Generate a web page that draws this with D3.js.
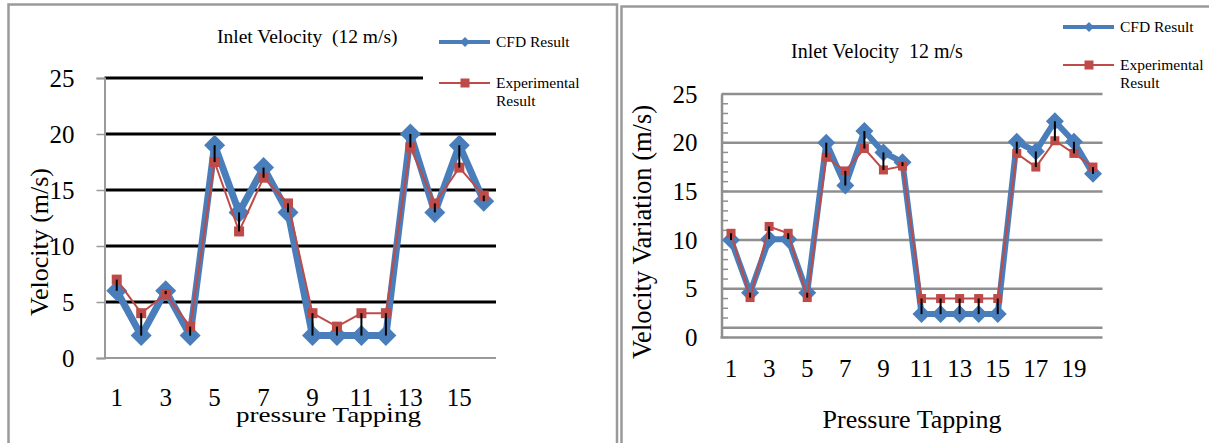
<!DOCTYPE html>
<meta charset="utf-8">
<style>
    body { margin: 0; background: #fff; }
    .container { width: 1209px; height: 443px; }
    text { font-family: "Liberation Serif", "Times New Roman", serif; fill: #000; }
</style>
<body>

<div class="container"></div>

<script src="https://cdn.jsdelivr.net/npm/d3@7"></script>

<script>

// left chart: 16 tappings
const leftTapping = [1, 2, 3, 4, 5, 6, 7, 8, 9, 10, 11, 12, 13, 14, 15, 16];
const leftCfd = [6, 2, 6, 2, 19, 13, 17, 13, 2, 2, 2, 2, 20, 13, 19, 14];
const leftExp = [7, 4, 5.7, 2.8, 17.5, 11.3, 16.1, 13.8, 4, 2.8, 4, 4, 18.8, 13.8, 17, 14.5];
const leftYTicks = [0, 5, 10, 15, 20, 25];
const leftXLabels = [1, 3, 5, 7, 9, 11, 13, 15];

// right chart: 20 tappings
const rightTapping = [1, 2, 3, 4, 5, 6, 7, 8, 9, 10, 11, 12, 13, 14, 15, 16, 17, 18, 19, 20];
const rightCfd = [10, 4.6, 10.1, 10.1, 4.6, 20, 15.6, 21.2, 19, 18, 2.4, 2.4, 2.4, 2.4, 2.4, 20.1, 19.1, 22.2, 20.1, 16.8];
const rightExp = [10.7, 4.1, 11.4, 10.7, 4.1, 18.5, 17.1, 19.4, 17.2, 17.6, 4, 4, 4, 4, 4, 18.9, 17.5, 20.2, 18.9, 17.5];
const rightYTicks = [0, 5, 10, 15, 20, 25];
const rightXLabels = [1, 3, 5, 7, 9, 11, 13, 15, 17, 19];

const blue = '#4a7ebb';
const red = '#be4b48';
const frameGrey = '#9a9a9a';

const width = 1209;
const height = 443;

const svg = d3.select('.container')
                .append('svg')
                .attr('width', width)
                .attr('height', height)
                .attr('viewBox', `0 0 ${width} ${height}`);

// panel frames
svg.append('rect')
    .attr('x', 8.5).attr('y', 4.5)
    .attr('width', 608.5).attr('height', 460)
    .attr('fill', 'none').attr('stroke', frameGrey).attr('stroke-width', 2.5);

svg.append('rect')
    .attr('x', 621.5).attr('y', 6.5)
    .attr('width', 620).attr('height', 460)
    .attr('fill', 'none').attr('stroke', frameGrey).attr('stroke-width', 2.5);

const diamond = (s) => `M0,${-s}L${s},0L0,${s}L${-s},0Z`;

const drawSeries = (g, x, y, cats, cfd, exp, o) => {

    const lineC = d3.line().x((d, i) => x(cats[i]) + x.bandwidth() / 2).y(d => y(d));

    g.append('path')
        .attr('d', lineC(cfd))
        .attr('fill', 'none')
        .attr('stroke', blue)
        .attr('stroke-width', o.blueWidth)
        .attr('stroke-linejoin', 'round');

    g.selectAll('path.cfd')
        .data(cfd)
        .enter()
        .append('path')
        .attr('class', 'cfd')
        .attr('d', diamond(o.diamond))
        .attr('transform', (d, i) => `translate(${x(cats[i]) + x.bandwidth() / 2},${y(d)})`)
        .attr('fill', blue);

    g.append('path')
        .attr('d', lineC(exp))
        .attr('fill', 'none')
        .attr('stroke', red)
        .attr('stroke-width', 2);

    g.selectAll('rect.exp')
        .data(exp)
        .enter()
        .append('rect')
        .attr('class', 'exp')
        .attr('x', (d, i) => x(cats[i]) + x.bandwidth() / 2 - o.square / 2)
        .attr('y', d => y(d) - o.square / 2)
        .attr('width', o.square)
        .attr('height', o.square)
        .attr('fill', red);

    // black bars between the two results
    g.selectAll('line.err')
        .data(cfd)
        .enter()
        .append('line')
        .attr('class', 'err')
        .attr('x1', (d, i) => x(cats[i]) + x.bandwidth() / 2)
        .attr('x2', (d, i) => x(cats[i]) + x.bandwidth() / 2)
        .attr('y1', d => y(d))
        .attr('y2', (d, i) => y(exp[i]))
        .attr('stroke', '#000')
        .attr('stroke-width', 2);
};

const drawLegend = (g, lx, ly1, ly2, tx) => {
    g.append('line')
        .attr('x1', lx).attr('x2', lx + 51).attr('y1', ly1).attr('y2', ly1)
        .attr('stroke', blue).attr('stroke-width', 4);
    g.append('path')
        .attr('d', diamond(5))
        .attr('transform', `translate(${lx + 26},${ly1})`)
        .attr('fill', blue);
    g.append('text')
        .attr('x', tx).attr('y', ly1 + 5)
        .style('font-size', '15.5px')
        .text('CFD Result');

    g.append('line')
        .attr('x1', lx).attr('x2', lx + 51).attr('y1', ly2).attr('y2', ly2)
        .attr('stroke', red).attr('stroke-width', 2);
    g.append('rect')
        .attr('x', lx + 21.5).attr('y', ly2 - 4.5)
        .attr('width', 9).attr('height', 9)
        .attr('fill', red);
    g.append('text')
        .attr('x', tx).attr('y', ly2 + 5)
        .style('font-size', '15.5px')
        .text('Experimental');
    g.append('text')
        .attr('x', tx).attr('y', ly2 + 23)
        .style('font-size', '15.5px')
        .text('Result');
};

// ---------- left chart ----------
{
    const g = svg.append('g');

    const x = d3.scaleBand().domain(leftTapping).range([104.5, 496]);
    const y = d3.scaleLinear().domain([0, 25]).range([358, 78]);

    g.selectAll('line.grid')
        .data(leftYTicks.filter(d => d > 0))
        .enter()
        .append('line')
        .attr('class', 'grid')
        .attr('x1', 104.5)
        .attr('x2', d => d === 25 ? 423 : 496)
        .attr('y1', d => y(d))
        .attr('y2', d => y(d))
        .attr('stroke', '#000')
        .attr('stroke-width', 3);

    const yAxis = g.append('g')
        .attr('transform', 'translate(104.5,0)')
        .call(d3.axisLeft(y).tickValues(leftYTicks).tickSize(8).tickPadding(22));
    yAxis.select('.domain').attr('stroke', frameGrey).attr('stroke-width', 2);
    yAxis.selectAll('.tick line').attr('stroke', frameGrey).attr('stroke-width', 1.5);
    yAxis.selectAll('text')
        .style('font-size', '25px')
        .attr('fill', '#000');

    g.append('line')
        .attr('x1', 104.5).attr('x2', 496)
        .attr('y1', y(0)).attr('y2', y(0))
        .attr('stroke', frameGrey).attr('stroke-width', 2);

    drawSeries(g, x, y, leftTapping, leftCfd, leftExp, { blueWidth: 7, diamond: 10.5, square: 10 });

    g.selectAll('text.xl')
        .data(leftXLabels)
        .enter()
        .append('text')
        .attr('class', 'xl')
        .attr('x', d => x(d) + x.bandwidth() / 2)
        .attr('y', 406)
        .attr('text-anchor', 'middle')
        .style('font-size', '25px')
        .text(d => d);

    g.append('text')
        .attr('x', x(13) + x.bandwidth() / 2 - 21)
        .attr('y', 406)
        .attr('text-anchor', 'middle')
        .style('font-size', '24px')
        .text('.');

    g.append('text')
        .attr('x', 236).attr('y', 422)
        .attr('textLength', 185)
        .attr('lengthAdjust', 'spacingAndGlyphs')
        .style('font-size', '22px')
        .text('pressure Tapping');

    g.append('text')
        .attr('transform', 'translate(48,242) rotate(-90)')
        .attr('text-anchor', 'middle')
        .style('font-size', '26px')
        .text('Velocity (m/s)');

    g.append('text')
        .attr('x', 217).attr('y', 43)
        .style('font-size', '19.5px')
        .attr('xml:space', 'preserve')
        .text('Inlet Velocity  (12 m/s)');

    drawLegend(g, 439, 42, 83, 496);
}

// ---------- right chart ----------
{
    const g = svg.append('g');

    const x = d3.scaleBand().domain(rightTapping).range([721.5, 1102.5]);
    const y = d3.scaleLinear().domain([0, 25]).range([337.5, 94]);

    g.selectAll('line.grid')
        .data([1, 5, 10, 15, 20, 25])
        .enter()
        .append('line')
        .attr('class', 'grid')
        .attr('x1', 721.5)
        .attr('x2', 1102.5)
        .attr('y1', d => y(d))
        .attr('y2', d => y(d))
        .attr('stroke', '#8f8f8f')
        .attr('stroke-width', 2.5);

    // minor ticks inside the axis
    g.selectAll('line.minor')
        .data(d3.range(0, 26))
        .enter()
        .append('line')
        .attr('class', 'minor')
        .attr('x1', 721.5).attr('x2', 728)
        .attr('y1', d => y(d)).attr('y2', d => y(d))
        .attr('stroke', '#8f8f8f')
        .attr('stroke-width', 1.5);

    const yAxis = g.append('g')
        .attr('transform', 'translate(721.5,0)')
        .call(d3.axisLeft(y).tickValues(rightYTicks).tickSize(0).tickPadding(24));
    yAxis.select('.domain').attr('stroke', '#8f8f8f').attr('stroke-width', 2.5);
    yAxis.selectAll('text')
        .style('font-size', '25px')
        .attr('fill', '#000');

    g.append('line')
        .attr('x1', 720.5).attr('x2', 1102.5)
        .attr('y1', y(0)).attr('y2', y(0))
        .attr('stroke', '#8f8f8f').attr('stroke-width', 2.5);

    drawSeries(g, x, y, rightTapping, rightCfd, rightExp, { blueWidth: 6, diamond: 9, square: 9 });

    g.selectAll('text.xl')
        .data(rightXLabels)
        .enter()
        .append('text')
        .attr('class', 'xl')
        .attr('x', d => x(d) + x.bandwidth() / 2)
        .attr('y', 377)
        .attr('text-anchor', 'middle')
        .style('font-size', '25px')
        .text(d => d);

    g.append('text')
        .attr('x', 912).attr('y', 428)
        .attr('text-anchor', 'middle')
        .style('font-size', '26px')
        .text('Pressure Tapping');

    g.append('text')
        .attr('transform', 'translate(651,232) rotate(-90)')
        .attr('text-anchor', 'middle')
        .style('font-size', '26.5px')
        .text('Velocity Variation (m/s)');

    g.append('text')
        .attr('x', 791).attr('y', 58)
        .style('font-size', '20px')
        .attr('xml:space', 'preserve')
        .text('Inlet Velocity  12 m/s');

    drawLegend(g, 1063, 27, 65, 1120);
}

</script>
</body>
